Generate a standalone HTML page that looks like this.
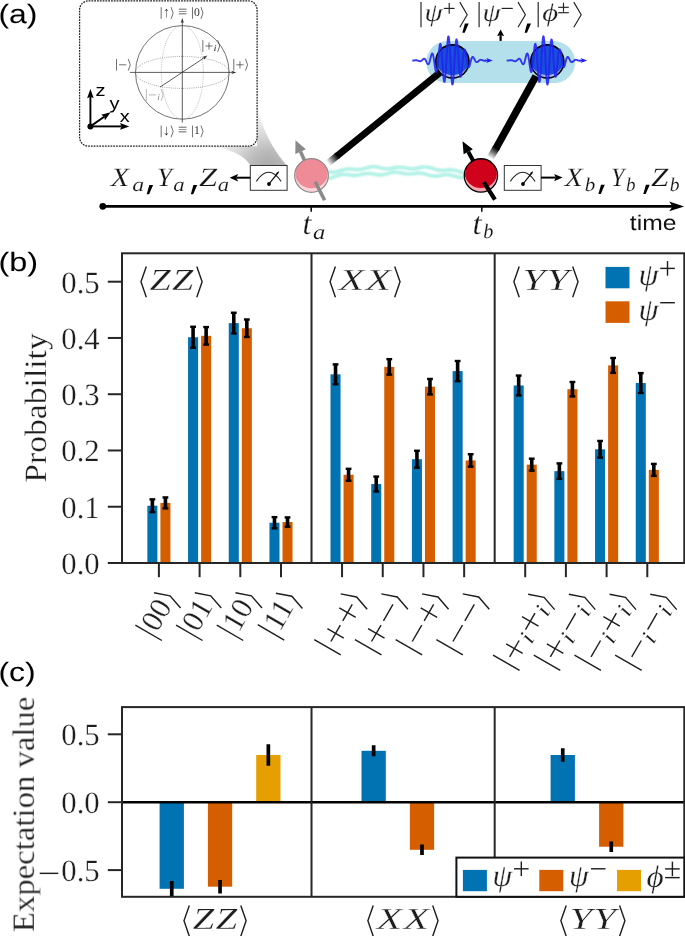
<!DOCTYPE html><html><head><meta charset="utf-8"><title>fig</title><style>html,body{margin:0;padding:0;background:#fff}svg{display:block}</style></head><body><svg width="685" height="936" viewBox="0 0 685 936" text-rendering="geometricPrecision">
<rect width="685" height="936" fill="#fff"/>
<g opacity="0.999">
<rect x="147.35" y="505.73" width="10.05" height="57.27" fill="#0072b2"/>
<rect x="160.40" y="502.91" width="10.05" height="60.09" fill="#d55e00"/>
<line x1="152.38" y1="498.75" x2="152.38" y2="512.70" stroke="#000" stroke-width="3.6"/><line x1="149.47" y1="499.35" x2="155.28" y2="499.35" stroke="#000" stroke-width="2.4"/><line x1="149.47" y1="512.10" x2="155.28" y2="512.10" stroke="#000" stroke-width="2.4"/>
<line x1="165.43" y1="496.84" x2="165.43" y2="508.99" stroke="#000" stroke-width="3.6"/><line x1="162.53" y1="497.44" x2="168.33" y2="497.44" stroke="#000" stroke-width="2.4"/><line x1="162.53" y1="508.39" x2="168.33" y2="508.39" stroke="#000" stroke-width="2.4"/>
<rect x="188.05" y="337.23" width="10.05" height="225.77" fill="#0072b2"/>
<rect x="201.10" y="335.82" width="10.05" height="227.18" fill="#d55e00"/>
<line x1="193.08" y1="326.15" x2="193.08" y2="348.31" stroke="#000" stroke-width="3.6"/><line x1="190.18" y1="326.75" x2="195.98" y2="326.75" stroke="#000" stroke-width="2.4"/><line x1="190.18" y1="347.71" x2="195.98" y2="347.71" stroke="#000" stroke-width="2.4"/>
<line x1="206.13" y1="326.48" x2="206.13" y2="345.16" stroke="#000" stroke-width="3.6"/><line x1="203.23" y1="327.08" x2="209.03" y2="327.08" stroke="#000" stroke-width="2.4"/><line x1="203.23" y1="344.56" x2="209.03" y2="344.56" stroke="#000" stroke-width="2.4"/>
<rect x="228.75" y="323.11" width="10.05" height="239.89" fill="#0072b2"/>
<rect x="241.80" y="328.23" width="10.05" height="234.77" fill="#d55e00"/>
<line x1="233.78" y1="312.14" x2="233.78" y2="334.08" stroke="#000" stroke-width="3.6"/><line x1="230.88" y1="312.74" x2="236.68" y2="312.74" stroke="#000" stroke-width="2.4"/><line x1="230.88" y1="333.48" x2="236.68" y2="333.48" stroke="#000" stroke-width="2.4"/>
<line x1="246.83" y1="318.89" x2="246.83" y2="337.57" stroke="#000" stroke-width="3.6"/><line x1="243.93" y1="319.49" x2="249.73" y2="319.49" stroke="#000" stroke-width="2.4"/><line x1="243.93" y1="336.97" x2="249.73" y2="336.97" stroke="#000" stroke-width="2.4"/>
<rect x="269.45" y="522.72" width="10.05" height="40.28" fill="#0072b2"/>
<rect x="282.50" y="522.04" width="10.05" height="40.96" fill="#d55e00"/>
<line x1="274.48" y1="516.53" x2="274.48" y2="528.91" stroke="#000" stroke-width="3.6"/><line x1="271.58" y1="517.13" x2="277.38" y2="517.13" stroke="#000" stroke-width="2.4"/><line x1="271.58" y1="528.31" x2="277.38" y2="528.31" stroke="#000" stroke-width="2.4"/>
<line x1="287.52" y1="516.81" x2="287.52" y2="527.27" stroke="#000" stroke-width="3.6"/><line x1="284.62" y1="517.41" x2="290.42" y2="517.41" stroke="#000" stroke-width="2.4"/><line x1="284.62" y1="526.67" x2="290.42" y2="526.67" stroke="#000" stroke-width="2.4"/>
<rect x="330.50" y="374.30" width="10.05" height="188.70" fill="#0072b2"/>
<rect x="343.55" y="474.78" width="10.05" height="88.22" fill="#d55e00"/>
<line x1="335.53" y1="363.78" x2="335.53" y2="384.82" stroke="#000" stroke-width="3.6"/><line x1="332.63" y1="364.38" x2="338.43" y2="364.38" stroke="#000" stroke-width="2.4"/><line x1="332.63" y1="384.22" x2="338.43" y2="384.22" stroke="#000" stroke-width="2.4"/>
<line x1="348.57" y1="468.20" x2="348.57" y2="481.37" stroke="#000" stroke-width="3.6"/><line x1="345.68" y1="468.80" x2="351.47" y2="468.80" stroke="#000" stroke-width="2.4"/><line x1="345.68" y1="480.77" x2="351.47" y2="480.77" stroke="#000" stroke-width="2.4"/>
<rect x="371.20" y="484.01" width="10.05" height="78.99" fill="#0072b2"/>
<rect x="384.25" y="366.88" width="10.05" height="196.12" fill="#d55e00"/>
<line x1="376.23" y1="475.97" x2="376.23" y2="492.06" stroke="#000" stroke-width="3.6"/><line x1="373.33" y1="476.57" x2="379.12" y2="476.57" stroke="#000" stroke-width="2.4"/><line x1="373.33" y1="491.46" x2="379.12" y2="491.46" stroke="#000" stroke-width="2.4"/>
<line x1="389.27" y1="358.55" x2="389.27" y2="375.20" stroke="#000" stroke-width="3.6"/><line x1="386.38" y1="359.15" x2="392.17" y2="359.15" stroke="#000" stroke-width="2.4"/><line x1="386.38" y1="374.60" x2="392.17" y2="374.60" stroke="#000" stroke-width="2.4"/>
<rect x="411.90" y="459.20" width="10.05" height="103.80" fill="#0072b2"/>
<rect x="424.95" y="386.68" width="10.05" height="176.32" fill="#d55e00"/>
<line x1="416.93" y1="450.14" x2="416.93" y2="468.26" stroke="#000" stroke-width="3.6"/><line x1="414.03" y1="450.74" x2="419.83" y2="450.74" stroke="#000" stroke-width="2.4"/><line x1="414.03" y1="467.66" x2="419.83" y2="467.66" stroke="#000" stroke-width="2.4"/>
<line x1="429.98" y1="378.35" x2="429.98" y2="395.01" stroke="#000" stroke-width="3.6"/><line x1="427.08" y1="378.95" x2="432.88" y2="378.95" stroke="#000" stroke-width="2.4"/><line x1="427.08" y1="394.41" x2="432.88" y2="394.41" stroke="#000" stroke-width="2.4"/>
<rect x="452.60" y="371.10" width="10.05" height="191.90" fill="#0072b2"/>
<rect x="465.65" y="460.44" width="10.05" height="102.56" fill="#d55e00"/>
<line x1="457.62" y1="360.41" x2="457.62" y2="381.79" stroke="#000" stroke-width="3.6"/><line x1="454.73" y1="361.01" x2="460.52" y2="361.01" stroke="#000" stroke-width="2.4"/><line x1="454.73" y1="381.19" x2="460.52" y2="381.19" stroke="#000" stroke-width="2.4"/>
<line x1="470.67" y1="453.63" x2="470.67" y2="467.25" stroke="#000" stroke-width="3.6"/><line x1="467.77" y1="454.23" x2="473.57" y2="454.23" stroke="#000" stroke-width="2.4"/><line x1="467.77" y1="466.65" x2="473.57" y2="466.65" stroke="#000" stroke-width="2.4"/>
<rect x="513.65" y="385.50" width="10.05" height="177.50" fill="#0072b2"/>
<rect x="526.70" y="464.66" width="10.05" height="98.34" fill="#d55e00"/>
<line x1="518.68" y1="374.98" x2="518.68" y2="396.02" stroke="#000" stroke-width="3.6"/><line x1="515.78" y1="375.58" x2="521.58" y2="375.58" stroke="#000" stroke-width="2.4"/><line x1="515.78" y1="395.42" x2="521.58" y2="395.42" stroke="#000" stroke-width="2.4"/>
<line x1="531.73" y1="458.08" x2="531.73" y2="471.24" stroke="#000" stroke-width="3.6"/><line x1="528.83" y1="458.68" x2="534.62" y2="458.68" stroke="#000" stroke-width="2.4"/><line x1="528.83" y1="470.64" x2="534.62" y2="470.64" stroke="#000" stroke-width="2.4"/>
<rect x="554.35" y="471.13" width="10.05" height="91.87" fill="#0072b2"/>
<rect x="567.40" y="389.21" width="10.05" height="173.79" fill="#d55e00"/>
<line x1="559.38" y1="462.80" x2="559.38" y2="479.45" stroke="#000" stroke-width="3.6"/><line x1="556.48" y1="463.40" x2="562.27" y2="463.40" stroke="#000" stroke-width="2.4"/><line x1="556.48" y1="478.85" x2="562.27" y2="478.85" stroke="#000" stroke-width="2.4"/>
<line x1="572.42" y1="381.39" x2="572.42" y2="397.03" stroke="#000" stroke-width="3.6"/><line x1="569.52" y1="381.99" x2="575.32" y2="381.99" stroke="#000" stroke-width="2.4"/><line x1="569.52" y1="396.43" x2="575.32" y2="396.43" stroke="#000" stroke-width="2.4"/>
<rect x="595.05" y="449.30" width="10.05" height="113.70" fill="#0072b2"/>
<rect x="608.10" y="365.41" width="10.05" height="197.59" fill="#d55e00"/>
<line x1="600.08" y1="440.35" x2="600.08" y2="458.24" stroke="#000" stroke-width="3.6"/><line x1="597.18" y1="440.95" x2="602.98" y2="440.95" stroke="#000" stroke-width="2.4"/><line x1="597.18" y1="457.64" x2="602.98" y2="457.64" stroke="#000" stroke-width="2.4"/>
<line x1="613.12" y1="357.37" x2="613.12" y2="373.46" stroke="#000" stroke-width="3.6"/><line x1="610.23" y1="357.97" x2="616.02" y2="357.97" stroke="#000" stroke-width="2.4"/><line x1="610.23" y1="372.86" x2="616.02" y2="372.86" stroke="#000" stroke-width="2.4"/>
<rect x="635.75" y="383.02" width="10.05" height="179.98" fill="#0072b2"/>
<rect x="648.80" y="469.89" width="10.05" height="93.11" fill="#d55e00"/>
<line x1="640.78" y1="372.50" x2="640.78" y2="393.54" stroke="#000" stroke-width="3.6"/><line x1="637.88" y1="373.10" x2="643.68" y2="373.10" stroke="#000" stroke-width="2.4"/><line x1="637.88" y1="392.94" x2="643.68" y2="392.94" stroke="#000" stroke-width="2.4"/>
<line x1="653.83" y1="463.31" x2="653.83" y2="476.47" stroke="#000" stroke-width="3.6"/><line x1="650.93" y1="463.91" x2="656.73" y2="463.91" stroke="#000" stroke-width="2.4"/><line x1="650.93" y1="475.87" x2="656.73" y2="475.87" stroke="#000" stroke-width="2.4"/>
<rect x="122.0" y="253.3" width="562.30" height="309.70" fill="none" stroke="#262626" stroke-width="2"/>
<line x1="311.52" y1="253.3" x2="311.52" y2="563.0" stroke="#262626" stroke-width="2"/>
<line x1="494.68" y1="253.3" x2="494.68" y2="563.0" stroke="#262626" stroke-width="2"/>
<line x1="107.80" y1="563.00" x2="122.0" y2="563.00" stroke="#262626" stroke-width="2"/>
<g transform="translate(99.70,574.00) translate(-38.36,0.00)"><text transform="translate(0.00,0.00) scale(0.990,1)" font-family="'Liberation Serif', serif" font-style="normal" font-size="31.00" text-anchor="start" fill="#1e1e1e"  stroke="#fff" stroke-width="0.24">0.0</text></g>
<line x1="107.80" y1="506.74" x2="122.0" y2="506.74" stroke="#262626" stroke-width="2"/>
<g transform="translate(99.70,517.74) translate(-38.36,0.00)"><text transform="translate(0.00,0.00) scale(0.990,1)" font-family="'Liberation Serif', serif" font-style="normal" font-size="31.00" text-anchor="start" fill="#1e1e1e"  stroke="#fff" stroke-width="0.24">0.1</text></g>
<line x1="107.80" y1="450.48" x2="122.0" y2="450.48" stroke="#262626" stroke-width="2"/>
<g transform="translate(99.70,461.48) translate(-38.36,0.00)"><text transform="translate(0.00,0.00) scale(0.990,1)" font-family="'Liberation Serif', serif" font-style="normal" font-size="31.00" text-anchor="start" fill="#1e1e1e"  stroke="#fff" stroke-width="0.24">0.2</text></g>
<line x1="107.80" y1="394.22" x2="122.0" y2="394.22" stroke="#262626" stroke-width="2"/>
<g transform="translate(99.70,405.22) translate(-38.36,0.00)"><text transform="translate(0.00,0.00) scale(0.990,1)" font-family="'Liberation Serif', serif" font-style="normal" font-size="31.00" text-anchor="start" fill="#1e1e1e"  stroke="#fff" stroke-width="0.24">0.3</text></g>
<line x1="107.80" y1="337.96" x2="122.0" y2="337.96" stroke="#262626" stroke-width="2"/>
<g transform="translate(99.70,348.96) translate(-38.36,0.00)"><text transform="translate(0.00,0.00) scale(0.990,1)" font-family="'Liberation Serif', serif" font-style="normal" font-size="31.00" text-anchor="start" fill="#1e1e1e"  stroke="#fff" stroke-width="0.24">0.4</text></g>
<line x1="107.80" y1="281.70" x2="122.0" y2="281.70" stroke="#262626" stroke-width="2"/>
<g transform="translate(99.70,292.70) translate(-38.36,0.00)"><text transform="translate(0.00,0.00) scale(0.990,1)" font-family="'Liberation Serif', serif" font-style="normal" font-size="31.00" text-anchor="start" fill="#1e1e1e"  stroke="#fff" stroke-width="0.24">0.5</text></g>
<line x1="158.90" y1="563.0" x2="158.90" y2="577.20" stroke="#262626" stroke-width="2"/>
<line x1="199.60" y1="563.0" x2="199.60" y2="577.20" stroke="#262626" stroke-width="2"/>
<line x1="240.30" y1="563.0" x2="240.30" y2="577.20" stroke="#262626" stroke-width="2"/>
<line x1="281.00" y1="563.0" x2="281.00" y2="577.20" stroke="#262626" stroke-width="2"/>
<line x1="342.05" y1="563.0" x2="342.05" y2="577.20" stroke="#262626" stroke-width="2"/>
<line x1="382.75" y1="563.0" x2="382.75" y2="577.20" stroke="#262626" stroke-width="2"/>
<line x1="423.45" y1="563.0" x2="423.45" y2="577.20" stroke="#262626" stroke-width="2"/>
<line x1="464.15" y1="563.0" x2="464.15" y2="577.20" stroke="#262626" stroke-width="2"/>
<line x1="525.20" y1="563.0" x2="525.20" y2="577.20" stroke="#262626" stroke-width="2"/>
<line x1="565.90" y1="563.0" x2="565.90" y2="577.20" stroke="#262626" stroke-width="2"/>
<line x1="606.60" y1="563.0" x2="606.60" y2="577.20" stroke="#262626" stroke-width="2"/>
<line x1="647.30" y1="563.0" x2="647.30" y2="577.20" stroke="#262626" stroke-width="2"/>
<g transform="translate(159.20,614.50) rotate(-60) translate(-25.44,7.65)"><line x1="4.25" y1="-22.95" x2="4.25" y2="7.65" stroke="#1e1e1e" stroke-width="1.41"/><text x="8.51" y="0.00" font-family="'Liberation Serif', serif" font-style="normal" font-size="30.60" text-anchor="start" fill="#1e1e1e"  stroke="#fff" stroke-width="0.23">00</text><polyline points="41.71,-22.95 47.06,-7.65 41.71,7.65" fill="none" stroke="#1e1e1e" stroke-width="1.41" stroke-linejoin="miter"/></g>
<g transform="translate(199.90,614.50) rotate(-60) translate(-25.44,7.65)"><line x1="4.25" y1="-22.95" x2="4.25" y2="7.65" stroke="#1e1e1e" stroke-width="1.41"/><text x="8.51" y="0.00" font-family="'Liberation Serif', serif" font-style="normal" font-size="30.60" text-anchor="start" fill="#1e1e1e"  stroke="#fff" stroke-width="0.23">01</text><polyline points="41.71,-22.95 47.06,-7.65 41.71,7.65" fill="none" stroke="#1e1e1e" stroke-width="1.41" stroke-linejoin="miter"/></g>
<g transform="translate(240.60,614.50) rotate(-60) translate(-25.44,7.65)"><line x1="4.25" y1="-22.95" x2="4.25" y2="7.65" stroke="#1e1e1e" stroke-width="1.41"/><text x="8.51" y="0.00" font-family="'Liberation Serif', serif" font-style="normal" font-size="30.60" text-anchor="start" fill="#1e1e1e"  stroke="#fff" stroke-width="0.23">10</text><polyline points="41.71,-22.95 47.06,-7.65 41.71,7.65" fill="none" stroke="#1e1e1e" stroke-width="1.41" stroke-linejoin="miter"/></g>
<g transform="translate(281.30,614.50) rotate(-60) translate(-24.88,7.65)"><line x1="4.25" y1="-22.95" x2="4.25" y2="7.65" stroke="#1e1e1e" stroke-width="1.41"/><text x="8.51" y="0.00" font-family="'Liberation Serif', serif" font-style="normal" font-size="30.60" text-anchor="start" fill="#1e1e1e"  stroke="#fff" stroke-width="0.23">11</text><polyline points="40.57,-22.95 45.93,-7.65 40.57,7.65" fill="none" stroke="#1e1e1e" stroke-width="1.41" stroke-linejoin="miter"/></g>
<g transform="translate(341.95,622.30) rotate(-60) translate(-33.11,7.65)"><line x1="4.25" y1="-22.95" x2="4.25" y2="7.65" stroke="#1e1e1e" stroke-width="1.41"/><line x1="10.92" y1="-7.65" x2="29.90" y2="-7.65" stroke="#1e1e1e" stroke-width="1.41"/><line x1="20.41" y1="-17.14" x2="20.41" y2="1.84" stroke="#1e1e1e" stroke-width="1.41"/><line x1="34.73" y1="-7.65" x2="53.70" y2="-7.65" stroke="#1e1e1e" stroke-width="1.41"/><line x1="44.22" y1="-17.14" x2="44.22" y2="1.84" stroke="#1e1e1e" stroke-width="1.41"/><polyline points="57.04,-22.95 62.39,-7.65 57.04,7.65" fill="none" stroke="#1e1e1e" stroke-width="1.41" stroke-linejoin="miter"/></g>
<g transform="translate(382.65,622.30) rotate(-60) translate(-33.11,7.65)"><line x1="4.25" y1="-22.95" x2="4.25" y2="7.65" stroke="#1e1e1e" stroke-width="1.41"/><line x1="10.92" y1="-7.65" x2="29.90" y2="-7.65" stroke="#1e1e1e" stroke-width="1.41"/><line x1="20.41" y1="-17.14" x2="20.41" y2="1.84" stroke="#1e1e1e" stroke-width="1.41"/><line x1="34.73" y1="-7.65" x2="53.70" y2="-7.65" stroke="#1e1e1e" stroke-width="1.41"/><polyline points="57.04,-22.95 62.39,-7.65 57.04,7.65" fill="none" stroke="#1e1e1e" stroke-width="1.41" stroke-linejoin="miter"/></g>
<g transform="translate(423.35,622.30) rotate(-60) translate(-33.11,7.65)"><line x1="4.25" y1="-22.95" x2="4.25" y2="7.65" stroke="#1e1e1e" stroke-width="1.41"/><line x1="10.92" y1="-7.65" x2="29.90" y2="-7.65" stroke="#1e1e1e" stroke-width="1.41"/><line x1="34.73" y1="-7.65" x2="53.70" y2="-7.65" stroke="#1e1e1e" stroke-width="1.41"/><line x1="44.22" y1="-17.14" x2="44.22" y2="1.84" stroke="#1e1e1e" stroke-width="1.41"/><polyline points="57.04,-22.95 62.39,-7.65 57.04,7.65" fill="none" stroke="#1e1e1e" stroke-width="1.41" stroke-linejoin="miter"/></g>
<g transform="translate(464.05,622.30) rotate(-60) translate(-33.11,7.65)"><line x1="4.25" y1="-22.95" x2="4.25" y2="7.65" stroke="#1e1e1e" stroke-width="1.41"/><line x1="10.92" y1="-7.65" x2="29.90" y2="-7.65" stroke="#1e1e1e" stroke-width="1.41"/><line x1="34.73" y1="-7.65" x2="53.70" y2="-7.65" stroke="#1e1e1e" stroke-width="1.41"/><polyline points="57.04,-22.95 62.39,-7.65 57.04,7.65" fill="none" stroke="#1e1e1e" stroke-width="1.41" stroke-linejoin="miter"/></g>
<g transform="translate(525.10,630.20) rotate(-60) translate(-41.80,7.65)"><line x1="4.25" y1="-22.95" x2="4.25" y2="7.65" stroke="#1e1e1e" stroke-width="1.41"/><line x1="10.92" y1="-7.65" x2="29.90" y2="-7.65" stroke="#1e1e1e" stroke-width="1.41"/><line x1="20.41" y1="-17.14" x2="20.41" y2="1.84" stroke="#1e1e1e" stroke-width="1.41"/><text transform="translate(32.31,5.20) scale(1.150,1)" font-family="'Liberation Serif', serif" font-style="italic" font-size="22.64" text-anchor="start" fill="#1e1e1e"  stroke="#fff" stroke-width="0.15">i</text><line x1="42.58" y1="-7.65" x2="61.55" y2="-7.65" stroke="#1e1e1e" stroke-width="1.41"/><line x1="52.06" y1="-17.14" x2="52.06" y2="1.84" stroke="#1e1e1e" stroke-width="1.41"/><text transform="translate(63.97,5.20) scale(1.150,1)" font-family="'Liberation Serif', serif" font-style="italic" font-size="22.64" text-anchor="start" fill="#1e1e1e"  stroke="#fff" stroke-width="0.15">i</text><polyline points="74.41,-22.95 79.77,-7.65 74.41,7.65" fill="none" stroke="#1e1e1e" stroke-width="1.41" stroke-linejoin="miter"/></g>
<g transform="translate(565.80,630.20) rotate(-60) translate(-41.80,7.65)"><line x1="4.25" y1="-22.95" x2="4.25" y2="7.65" stroke="#1e1e1e" stroke-width="1.41"/><line x1="10.92" y1="-7.65" x2="29.90" y2="-7.65" stroke="#1e1e1e" stroke-width="1.41"/><line x1="20.41" y1="-17.14" x2="20.41" y2="1.84" stroke="#1e1e1e" stroke-width="1.41"/><text transform="translate(32.31,5.20) scale(1.150,1)" font-family="'Liberation Serif', serif" font-style="italic" font-size="22.64" text-anchor="start" fill="#1e1e1e"  stroke="#fff" stroke-width="0.15">i</text><line x1="42.58" y1="-7.65" x2="61.55" y2="-7.65" stroke="#1e1e1e" stroke-width="1.41"/><text transform="translate(63.97,5.20) scale(1.150,1)" font-family="'Liberation Serif', serif" font-style="italic" font-size="22.64" text-anchor="start" fill="#1e1e1e"  stroke="#fff" stroke-width="0.15">i</text><polyline points="74.41,-22.95 79.77,-7.65 74.41,7.65" fill="none" stroke="#1e1e1e" stroke-width="1.41" stroke-linejoin="miter"/></g>
<g transform="translate(606.50,630.20) rotate(-60) translate(-41.80,7.65)"><line x1="4.25" y1="-22.95" x2="4.25" y2="7.65" stroke="#1e1e1e" stroke-width="1.41"/><line x1="10.92" y1="-7.65" x2="29.90" y2="-7.65" stroke="#1e1e1e" stroke-width="1.41"/><text transform="translate(32.31,5.20) scale(1.150,1)" font-family="'Liberation Serif', serif" font-style="italic" font-size="22.64" text-anchor="start" fill="#1e1e1e"  stroke="#fff" stroke-width="0.15">i</text><line x1="42.58" y1="-7.65" x2="61.55" y2="-7.65" stroke="#1e1e1e" stroke-width="1.41"/><line x1="52.06" y1="-17.14" x2="52.06" y2="1.84" stroke="#1e1e1e" stroke-width="1.41"/><text transform="translate(63.97,5.20) scale(1.150,1)" font-family="'Liberation Serif', serif" font-style="italic" font-size="22.64" text-anchor="start" fill="#1e1e1e"  stroke="#fff" stroke-width="0.15">i</text><polyline points="74.41,-22.95 79.77,-7.65 74.41,7.65" fill="none" stroke="#1e1e1e" stroke-width="1.41" stroke-linejoin="miter"/></g>
<g transform="translate(647.20,630.20) rotate(-60) translate(-41.80,7.65)"><line x1="4.25" y1="-22.95" x2="4.25" y2="7.65" stroke="#1e1e1e" stroke-width="1.41"/><line x1="10.92" y1="-7.65" x2="29.90" y2="-7.65" stroke="#1e1e1e" stroke-width="1.41"/><text transform="translate(32.31,5.20) scale(1.150,1)" font-family="'Liberation Serif', serif" font-style="italic" font-size="22.64" text-anchor="start" fill="#1e1e1e"  stroke="#fff" stroke-width="0.15">i</text><line x1="42.58" y1="-7.65" x2="61.55" y2="-7.65" stroke="#1e1e1e" stroke-width="1.41"/><text transform="translate(63.97,5.20) scale(1.150,1)" font-family="'Liberation Serif', serif" font-style="italic" font-size="22.64" text-anchor="start" fill="#1e1e1e"  stroke="#fff" stroke-width="0.15">i</text><polyline points="74.41,-22.95 79.77,-7.65 74.41,7.65" fill="none" stroke="#1e1e1e" stroke-width="1.41" stroke-linejoin="miter"/></g>
<g transform="translate(45.5,408) rotate(-90)"><text transform="translate(0.00,0.00) scale(1.085,1)" font-family="'Liberation Serif', serif" font-style="normal" font-size="31.00" text-anchor="middle" fill="#1e1e1e"  stroke="#fff" stroke-width="0.26">Probability</text></g>
<g transform="translate(137.15,289.50) translate(0.00,0.00)"><polyline points="9.18,-22.95 3.83,-7.65 9.18,7.65" fill="none" stroke="#1e1e1e" stroke-width="1.41" stroke-linejoin="miter"/><text transform="translate(12.39,0.00) scale(1.249,1)" font-family="'Liberation Serif', serif" font-style="italic" font-size="30.60" text-anchor="start" fill="#1e1e1e"  stroke="#fff" stroke-width="0.29">Z</text><text transform="translate(34.86,0.00) scale(1.249,1)" font-family="'Liberation Serif', serif" font-style="italic" font-size="30.60" text-anchor="start" fill="#1e1e1e"  stroke="#fff" stroke-width="0.29">Z</text><polyline points="59.63,-22.95 64.98,-7.65 59.63,7.65" fill="none" stroke="#1e1e1e" stroke-width="1.41" stroke-linejoin="miter"/></g>
<g transform="translate(326.25,289.50) translate(0.00,0.00)"><polyline points="9.18,-22.95 3.83,-7.65 9.18,7.65" fill="none" stroke="#1e1e1e" stroke-width="1.41" stroke-linejoin="miter"/><text transform="translate(12.39,0.00) scale(1.372,1)" font-family="'Liberation Serif', serif" font-style="italic" font-size="30.60" text-anchor="start" fill="#1e1e1e"  stroke="#fff" stroke-width="0.32">X</text><text transform="translate(39.26,0.00) scale(1.372,1)" font-family="'Liberation Serif', serif" font-style="italic" font-size="30.60" text-anchor="start" fill="#1e1e1e"  stroke="#fff" stroke-width="0.32">X</text><polyline points="68.43,-22.95 73.78,-7.65 68.43,7.65" fill="none" stroke="#1e1e1e" stroke-width="1.41" stroke-linejoin="miter"/></g>
<g transform="translate(510.05,289.50) translate(0.00,0.00)"><polyline points="9.18,-22.95 3.83,-7.65 9.18,7.65" fill="none" stroke="#1e1e1e" stroke-width="1.41" stroke-linejoin="miter"/><text transform="translate(12.39,0.00) scale(1.337,1)" font-family="'Liberation Serif', serif" font-style="italic" font-size="30.60" text-anchor="start" fill="#1e1e1e"  stroke="#fff" stroke-width="0.31">Y</text><text transform="translate(36.36,0.00) scale(1.337,1)" font-family="'Liberation Serif', serif" font-style="italic" font-size="30.60" text-anchor="start" fill="#1e1e1e"  stroke="#fff" stroke-width="0.31">Y</text><polyline points="62.63,-22.95 67.98,-7.65 62.63,7.65" fill="none" stroke="#1e1e1e" stroke-width="1.41" stroke-linejoin="miter"/></g>
<rect x="605.5" y="266.9" width="24.0" height="21.4" fill="#0072b2"/>
<rect x="605.5" y="301.3" width="24.0" height="21.6" fill="#d55e00"/>
<g transform="translate(638.60,285.20) translate(0.00,0.00)"><text transform="translate(0.00,0.00) scale(1.039,1)" font-family="'Liberation Serif', serif" font-style="italic" font-size="31.00" text-anchor="start" fill="#1e1e1e"  stroke="#fff" stroke-width="0.25">ψ</text></g>
<g transform="translate(658.35,276.15) translate(0.00,0.00)"><line x1="1.86" y1="-7.75" x2="16.47" y2="-7.75" stroke="#1e1e1e" stroke-width="1.43"/><line x1="9.16" y1="-15.05" x2="9.16" y2="-0.45" stroke="#1e1e1e" stroke-width="1.43"/></g>
<g transform="translate(638.60,319.50) translate(0.00,0.00)"><text transform="translate(0.00,0.00) scale(1.039,1)" font-family="'Liberation Serif', serif" font-style="italic" font-size="31.00" text-anchor="start" fill="#1e1e1e"  stroke="#fff" stroke-width="0.25">ψ</text></g>
<g transform="translate(658.35,310.45) translate(0.00,0.00)"><line x1="1.86" y1="-7.75" x2="16.47" y2="-7.75" stroke="#1e1e1e" stroke-width="1.43"/></g>
<text x="-1.60" y="270.80" font-family="'Liberation Sans', sans-serif" font-style="normal" font-size="26.50" text-anchor="start" fill="#000" textLength="39.6" lengthAdjust="spacingAndGlyphs" stroke="#000" stroke-width="0.05">(b)</text>
<clipPath id="cc"><rect x="122.0" y="707.1" width="562.30" height="189.70"/></clipPath><g clip-path="url(#cc)">
<rect x="159.60" y="802.20" width="24.3" height="86.60" fill="#0072b2"/>
<line x1="171.75" y1="880.92" x2="171.75" y2="896.68" stroke="#000" stroke-width="3.7"/>
<rect x="207.90" y="802.20" width="24.3" height="84.47" fill="#d55e00"/>
<line x1="220.05" y1="879.92" x2="220.05" y2="893.42" stroke="#000" stroke-width="3.7"/>
<rect x="256.20" y="755.00" width="24.3" height="47.20" fill="#e69f00"/>
<line x1="268.35" y1="744.20" x2="268.35" y2="765.79" stroke="#000" stroke-width="3.7"/>
<rect x="361.50" y="750.80" width="24.3" height="51.40" fill="#0072b2"/>
<line x1="373.65" y1="745.30" x2="373.65" y2="756.30" stroke="#000" stroke-width="3.7"/>
<rect x="409.85" y="802.20" width="24.3" height="47.60" fill="#d55e00"/>
<line x1="422.00" y1="844.50" x2="422.00" y2="855.09" stroke="#000" stroke-width="3.7"/>
<rect x="550.60" y="755.00" width="24.3" height="47.20" fill="#0072b2"/>
<line x1="562.75" y1="748.27" x2="562.75" y2="761.72" stroke="#000" stroke-width="3.7"/>
<rect x="599.10" y="802.20" width="24.3" height="44.53" fill="#d55e00"/>
<line x1="611.25" y1="841.43" x2="611.25" y2="852.03" stroke="#000" stroke-width="3.7"/>
</g>
<line x1="122.0" y1="802.2" x2="684.3" y2="802.2" stroke="#000" stroke-width="2.4"/>
<rect x="122.0" y="707.1" width="562.30" height="189.70" fill="none" stroke="#262626" stroke-width="2"/>
<line x1="311.52" y1="707.1" x2="311.52" y2="896.8" stroke="#262626" stroke-width="2"/>
<line x1="494.68" y1="707.1" x2="494.68" y2="896.8" stroke="#262626" stroke-width="2"/>
<line x1="107.80" y1="734.30" x2="122.0" y2="734.30" stroke="#262626" stroke-width="2"/>
<g transform="translate(99.70,745.30) translate(-38.36,0.00)"><text transform="translate(0.00,0.00) scale(0.990,1)" font-family="'Liberation Serif', serif" font-style="normal" font-size="31.00" text-anchor="start" fill="#1e1e1e"  stroke="#fff" stroke-width="0.24">0.5</text></g>
<line x1="107.80" y1="802.20" x2="122.0" y2="802.20" stroke="#262626" stroke-width="2"/>
<g transform="translate(99.70,813.20) translate(-38.36,0.00)"><text transform="translate(0.00,0.00) scale(0.990,1)" font-family="'Liberation Serif', serif" font-style="normal" font-size="31.00" text-anchor="start" fill="#1e1e1e"  stroke="#fff" stroke-width="0.24">0.0</text></g>
<line x1="107.80" y1="870.10" x2="122.0" y2="870.10" stroke="#262626" stroke-width="2"/>
<g transform="translate(99.70,881.10) translate(-62.38,0.00)"><line x1="2.38" y1="-7.75" x2="21.02" y2="-7.75" stroke="#1e1e1e" stroke-width="1.43"/><text transform="translate(24.01,0.00) scale(0.990,1)" font-family="'Liberation Serif', serif" font-style="normal" font-size="31.00" text-anchor="start" fill="#1e1e1e"  stroke="#fff" stroke-width="0.24">0.5</text></g>
<g transform="translate(33.8,814.4) rotate(-90)"><text x="0.00" y="0.00" font-family="'Liberation Serif', serif" font-style="normal" font-size="31.00" text-anchor="middle" fill="#1e1e1e" textLength="235.5" lengthAdjust="spacingAndGlyphs" stroke="#fff" stroke-width="0.24">Expectation value</text></g>
<g transform="translate(180.15,928.50) translate(0.00,0.00)"><polyline points="9.18,-22.95 3.83,-7.65 9.18,7.65" fill="none" stroke="#1e1e1e" stroke-width="1.41" stroke-linejoin="miter"/><text transform="translate(12.39,0.00) scale(1.278,1)" font-family="'Liberation Serif', serif" font-style="italic" font-size="30.60" text-anchor="start" fill="#1e1e1e"  stroke="#fff" stroke-width="0.30">Z</text><text transform="translate(35.36,0.00) scale(1.278,1)" font-family="'Liberation Serif', serif" font-style="italic" font-size="30.60" text-anchor="start" fill="#1e1e1e"  stroke="#fff" stroke-width="0.30">Z</text><polyline points="60.63,-22.95 65.98,-7.65 60.63,7.65" fill="none" stroke="#1e1e1e" stroke-width="1.41" stroke-linejoin="miter"/></g>
<g transform="translate(364.05,928.50) translate(0.00,0.00)"><polyline points="9.18,-22.95 3.83,-7.65 9.18,7.65" fill="none" stroke="#1e1e1e" stroke-width="1.41" stroke-linejoin="miter"/><text transform="translate(12.39,0.00) scale(1.378,1)" font-family="'Liberation Serif', serif" font-style="italic" font-size="30.60" text-anchor="start" fill="#1e1e1e"  stroke="#fff" stroke-width="0.32">X</text><text transform="translate(39.36,0.00) scale(1.378,1)" font-family="'Liberation Serif', serif" font-style="italic" font-size="30.60" text-anchor="start" fill="#1e1e1e"  stroke="#fff" stroke-width="0.32">X</text><polyline points="68.63,-22.95 73.98,-7.65 68.63,7.65" fill="none" stroke="#1e1e1e" stroke-width="1.41" stroke-linejoin="miter"/></g>
<g transform="translate(557.05,928.50) translate(0.00,0.00)"><polyline points="9.18,-22.95 3.83,-7.65 9.18,7.65" fill="none" stroke="#1e1e1e" stroke-width="1.41" stroke-linejoin="miter"/><text transform="translate(12.39,0.00) scale(1.334,1)" font-family="'Liberation Serif', serif" font-style="italic" font-size="30.60" text-anchor="start" fill="#1e1e1e"  stroke="#fff" stroke-width="0.31">Y</text><text transform="translate(36.31,0.00) scale(1.334,1)" font-family="'Liberation Serif', serif" font-style="italic" font-size="30.60" text-anchor="start" fill="#1e1e1e"  stroke="#fff" stroke-width="0.31">Y</text><polyline points="62.53,-22.95 67.88,-7.65 62.53,7.65" fill="none" stroke="#1e1e1e" stroke-width="1.41" stroke-linejoin="miter"/></g>
<rect x="456.4" y="857.6" width="227.90" height="39.20" fill="#fff" stroke="#111" stroke-width="2"/>
<rect x="462.9" y="869.9" width="24.0" height="21.3" fill="#0072b2"/>
<g transform="translate(492.50,885.60) translate(0.00,0.00)"><text transform="translate(0.00,0.00) scale(1.018,1)" font-family="'Liberation Serif', serif" font-style="italic" font-size="31.00" text-anchor="start" fill="#1e1e1e"  stroke="#fff" stroke-width="0.24">ψ</text></g>
<g transform="translate(512.15,876.55) translate(0.00,0.00)"><line x1="1.86" y1="-7.75" x2="16.47" y2="-7.75" stroke="#1e1e1e" stroke-width="1.43"/><line x1="9.16" y1="-15.05" x2="9.16" y2="-0.45" stroke="#1e1e1e" stroke-width="1.43"/></g>
<rect x="539.3" y="869.9" width="24.0" height="21.3" fill="#d55e00"/>
<g transform="translate(569.10,885.60) translate(0.00,0.00)"><text transform="translate(0.00,0.00) scale(1.018,1)" font-family="'Liberation Serif', serif" font-style="italic" font-size="31.00" text-anchor="start" fill="#1e1e1e"  stroke="#fff" stroke-width="0.24">ψ</text></g>
<g transform="translate(589.05,876.55) translate(0.00,0.00)"><line x1="1.86" y1="-7.75" x2="16.47" y2="-7.75" stroke="#1e1e1e" stroke-width="1.43"/></g>
<rect x="617.0" y="869.9" width="24.0" height="21.3" fill="#e69f00"/>
<g transform="translate(646.50,886.60) translate(0.00,0.00)"><text transform="translate(0.00,0.00) scale(1.072,1)" font-family="'Liberation Serif', serif" font-style="italic" font-size="31.00" text-anchor="start" fill="#1e1e1e"  stroke="#fff" stroke-width="0.26">ϕ</text></g>
<g transform="translate(663.25,876.65) translate(0.00,0.00)"><line x1="1.86" y1="-7.75" x2="16.47" y2="-7.75" stroke="#1e1e1e" stroke-width="1.43"/><line x1="9.16" y1="-15.05" x2="9.16" y2="-0.45" stroke="#1e1e1e" stroke-width="1.43"/><line x1="1.86" y1="0.98" x2="16.47" y2="0.98" stroke="#1e1e1e" stroke-width="1.43"/></g>
<text x="-1.60" y="680.60" font-family="'Liberation Sans', sans-serif" font-style="normal" font-size="26.50" text-anchor="start" fill="#000" textLength="37.2" lengthAdjust="spacingAndGlyphs" stroke="#000" stroke-width="0.05">(c)</text>
<defs>
<radialGradient id="gcall" cx="268.5" cy="170" r="66" gradientUnits="userSpaceOnUse"><stop offset="0" stop-color="#a4a4a4"/><stop offset="0.28" stop-color="#bababa"/><stop offset="0.55" stop-color="#dadada"/><stop offset="0.8" stop-color="#f2f2f2"/><stop offset="1" stop-color="#ffffff"/></radialGradient>
<linearGradient id="gla" x1="325.5" y1="165.2" x2="337.5" y2="155.5" gradientUnits="userSpaceOnUse"><stop offset="0" stop-color="#fff"/><stop offset="0.2" stop-color="#fff"/><stop offset="1" stop-color="#000"/></linearGradient>
<linearGradient id="glb" x1="488.6" y1="160.6" x2="496.2" y2="148" gradientUnits="userSpaceOnUse"><stop offset="0" stop-color="#fff"/><stop offset="0.2" stop-color="#fff"/><stop offset="1" stop-color="#000"/></linearGradient>
<filter id="blur1" x="-5%" y="-50%" width="110%" height="200%"><feGaussianBlur stdDeviation="1.1"/></filter>
<clipPath id="ca"><circle cx="311.5" cy="175.5" r="16.2"/></clipPath>
<clipPath id="cb"><circle cx="480.9" cy="175.4" r="16.0"/></clipPath>
<clipPath id="cp1"><circle cx="452.4" cy="61.5" r="16.2"/></clipPath>
<clipPath id="cp2"><circle cx="547.3" cy="61.5" r="16.2"/></clipPath>
</defs>
<path d="M250.2,165.6 C247,160 240,153 222,148.6 C214,147 206,146.4 196,146.2 L257.1,146.2 L257.1,100 C258,110 262,125 266.3,133.4 C271,145 280,158 287.2,165.6 Z" fill="url(#gcall)"/>
<rect x="79.6" y="0.8" width="177.5" height="145.4" rx="9" ry="9" fill="#fff" stroke="#222" stroke-width="1.25" stroke-dasharray="1.8,1.0"/>
<circle cx="182.3" cy="72.4" r="46.8" fill="none" stroke="#444" stroke-width="0.75"/>
<ellipse cx="182.3" cy="72.4" rx="46.8" ry="16" fill="none" stroke="#808080" stroke-width="0.8" stroke-dasharray="0.9,1.2"/>
<ellipse cx="182.3" cy="72.4" rx="21" ry="46.8" fill="none" stroke="#a0a0a0" stroke-width="0.8" stroke-dasharray="0.9,1.2"/>
<line x1="182.30" y1="122.60" x2="182.30" y2="22.00" stroke="#333" stroke-width="0.8"/><polygon points="182.30,18.00 183.90,23.00 182.30,22.00 180.70,23.00" fill="#333"/>
<line x1="129.90" y1="72.40" x2="232.40" y2="72.40" stroke="#333" stroke-width="0.8"/><polygon points="236.40,72.40 231.40,74.00 232.40,72.40 231.40,70.80" fill="#333"/>
<line x1="159.90" y1="87.20" x2="204.07" y2="57.82" stroke="#333" stroke-width="0.8"/><polygon points="207.40,55.60 204.12,59.70 204.07,57.82 202.35,57.04" fill="#333"/>
<g transform="translate(182.00,15.93) translate(-22.47,0.00)"><line x1="1.63" y1="-8.77" x2="1.63" y2="2.92" stroke="#333" stroke-width="0.70"/><text x="3.25" y="0.58" font-family="'Liberation Serif', serif" font-style="normal" font-size="14.62" text-anchor="start" fill="#333"  stroke="#fff" stroke-width="0.05">↑</text><polyline points="11.56,-8.77 13.61,-2.92 11.56,2.92" fill="none" stroke="#333" stroke-width="0.70" stroke-linejoin="miter"/><text x="18.58" y="0.70" font-family="'Liberation Serif', serif" font-style="normal" font-size="16.38" text-anchor="start" fill="#333"  stroke="#fff" stroke-width="0.07">≡</text><line x1="32.95" y1="-8.77" x2="32.95" y2="2.92" stroke="#333" stroke-width="0.70"/><text x="34.58" y="0.00" font-family="'Liberation Serif', serif" font-style="normal" font-size="11.70" text-anchor="start" fill="#333" >0</text><polyline points="41.42,-8.77 43.47,-2.92 41.42,2.92" fill="none" stroke="#333" stroke-width="0.70" stroke-linejoin="miter"/></g>
<g transform="translate(182.00,134.33) translate(-22.47,0.00)"><line x1="1.63" y1="-8.77" x2="1.63" y2="2.92" stroke="#333" stroke-width="0.70"/><text x="3.25" y="0.58" font-family="'Liberation Serif', serif" font-style="normal" font-size="14.62" text-anchor="start" fill="#333"  stroke="#fff" stroke-width="0.05">↓</text><polyline points="11.56,-8.77 13.61,-2.92 11.56,2.92" fill="none" stroke="#333" stroke-width="0.70" stroke-linejoin="miter"/><text x="18.58" y="0.70" font-family="'Liberation Serif', serif" font-style="normal" font-size="16.38" text-anchor="start" fill="#333"  stroke="#fff" stroke-width="0.07">≡</text><line x1="32.95" y1="-8.77" x2="32.95" y2="2.92" stroke="#333" stroke-width="0.70"/><text x="34.58" y="0.00" font-family="'Liberation Serif', serif" font-style="normal" font-size="11.70" text-anchor="start" fill="#333" >1</text><polyline points="41.42,-8.77 43.47,-2.92 41.42,2.92" fill="none" stroke="#333" stroke-width="0.70" stroke-linejoin="miter"/></g>
<g transform="translate(123.30,67.72) translate(-8.43,0.00)"><line x1="1.63" y1="-8.77" x2="1.63" y2="2.92" stroke="#333" stroke-width="0.70"/><line x1="4.18" y1="-2.92" x2="11.43" y2="-2.92" stroke="#333" stroke-width="0.70"/><polyline points="13.35,-8.77 15.40,-2.92 13.35,2.92" fill="none" stroke="#333" stroke-width="0.70" stroke-linejoin="miter"/></g>
<g transform="translate(240.60,67.72) translate(-8.43,0.00)"><line x1="1.63" y1="-8.77" x2="1.63" y2="2.92" stroke="#333" stroke-width="0.70"/><line x1="4.18" y1="-2.92" x2="11.43" y2="-2.92" stroke="#333" stroke-width="0.70"/><line x1="7.80" y1="-6.55" x2="7.80" y2="0.70" stroke="#333" stroke-width="0.70"/><polyline points="13.35,-8.77 15.40,-2.92 13.35,2.92" fill="none" stroke="#333" stroke-width="0.70" stroke-linejoin="miter"/></g>
<g transform="translate(211.20,48.92) translate(-9.99,0.00)"><line x1="1.63" y1="-8.77" x2="1.63" y2="2.92" stroke="#333" stroke-width="0.70"/><line x1="4.18" y1="-2.92" x2="11.43" y2="-2.92" stroke="#333" stroke-width="0.70"/><line x1="7.80" y1="-6.55" x2="7.80" y2="0.70" stroke="#333" stroke-width="0.70"/><text transform="translate(12.36,1.99) scale(1.200,1)" font-family="'Liberation Serif', serif" font-style="italic" font-size="9.36" text-anchor="start" fill="#333" >i</text><polyline points="16.47,-8.77 18.52,-2.92 16.47,2.92" fill="none" stroke="#333" stroke-width="0.70" stroke-linejoin="miter"/></g>
<g transform="translate(154.70,97.83) translate(-9.99,0.00)"><line x1="1.63" y1="-8.77" x2="1.63" y2="2.92" stroke="#999" stroke-width="0.70"/><line x1="4.18" y1="-2.92" x2="11.43" y2="-2.92" stroke="#999" stroke-width="0.70"/><text transform="translate(12.36,1.99) scale(1.200,1)" font-family="'Liberation Serif', serif" font-style="italic" font-size="9.36" text-anchor="start" fill="#999" >i</text><polyline points="16.47,-8.77 18.52,-2.92 16.47,2.92" fill="none" stroke="#999" stroke-width="0.70" stroke-linejoin="miter"/></g>
<circle cx="90.4" cy="126.4" r="3.0" fill="#000"/>
<line x1="90.40" y1="126.40" x2="90.40" y2="96.82" stroke="#000" stroke-width="1.9"/><polygon points="90.40,89.00 93.70,98.20 90.40,96.82 87.10,98.20" fill="#000"/>
<line x1="90.40" y1="126.40" x2="121.48" y2="126.40" stroke="#000" stroke-width="1.9"/><polygon points="129.30,126.40 120.10,129.70 121.48,126.40 120.10,123.10" fill="#000"/>
<line x1="90.40" y1="126.40" x2="104.20" y2="116.70" stroke="#000" stroke-width="1.9"/><polygon points="110.60,112.20 104.97,120.19 104.20,116.70 101.18,114.79" fill="#000"/>
<text x="95.50" y="96.20" font-family="'Liberation Sans', sans-serif" font-style="normal" font-size="17.00" text-anchor="start" fill="#000" textLength="10" lengthAdjust="spacingAndGlyphs">z</text>
<text x="109.50" y="108.80" font-family="'Liberation Sans', sans-serif" font-style="normal" font-size="17.00" text-anchor="start" fill="#000" textLength="10" lengthAdjust="spacingAndGlyphs">y</text>
<text x="119.80" y="122.30" font-family="'Liberation Sans', sans-serif" font-style="normal" font-size="17.00" text-anchor="start" fill="#000" textLength="10" lengthAdjust="spacingAndGlyphs">x</text>
<rect x="426.2" y="41.1" width="148.9" height="42" rx="21" ry="21" fill="#b3e0ea"/>
<line x1="336.5" y1="156.3" x2="440" y2="72.5" stroke="#000" stroke-width="6.8"/>
<line x1="325.5" y1="165.2" x2="338" y2="155.1" stroke="url(#gla)" stroke-width="6.8"/>
<line x1="495.6" y1="149" x2="536.0" y2="76" stroke="#000" stroke-width="7.4"/>
<line x1="488.6" y1="160.6" x2="496.5" y2="147.4" stroke="url(#glb)" stroke-width="7.4"/>
<circle cx="452.4" cy="61.5" r="16.6" fill="#a3b4e6"/>
<g clip-path="url(#cp1)"><ellipse cx="452.4" cy="58.9" rx="17.2" ry="16.2" fill="#1650d6"/></g>
<circle cx="452.4" cy="61.5" r="16.6" fill="none" stroke="#000" stroke-width="1.6"/>
<circle cx="547.3" cy="61.5" r="16.6" fill="#a3b4e6"/>
<g clip-path="url(#cp2)"><ellipse cx="547.3" cy="58.9" rx="17.2" ry="16.2" fill="#1650d6"/></g>
<circle cx="547.3" cy="61.5" r="16.6" fill="none" stroke="#000" stroke-width="1.6"/>
<polyline points="412.30,60.59 412.47,60.58 412.63,60.57 412.80,60.57 412.97,60.55 413.13,60.54 413.30,60.53 413.47,60.51 413.63,60.49 413.80,60.47 413.97,60.45 414.13,60.42 414.30,60.40 414.47,60.38 414.64,60.35 414.80,60.33 414.97,60.31 415.14,60.29 415.30,60.27 415.47,60.25 415.64,60.24 415.80,60.23 415.97,60.23 416.14,60.23 416.30,60.23 416.47,60.25 416.64,60.26 416.80,60.29 416.97,60.32 417.14,60.35 417.30,60.40 417.47,60.44 417.64,60.50 417.80,60.55 417.97,60.61 418.14,60.68 418.31,60.75 418.47,60.81 418.64,60.88 418.81,60.95 418.97,61.01 419.14,61.07 419.31,61.12 419.47,61.16 419.64,61.20 419.81,61.23 419.97,61.24 420.14,61.24 420.31,61.23 420.47,61.20 420.64,61.16 420.81,61.10 420.97,61.03 421.14,60.94 421.31,60.84 421.47,60.72 421.64,60.59 421.81,60.45 421.98,60.30 422.14,60.14 422.31,59.97 422.48,59.81 422.64,59.64 422.81,59.48 422.98,59.32 423.14,59.18 423.31,59.05 423.48,58.94 423.64,58.84 423.81,58.77 423.98,58.73 424.14,58.72 424.31,58.74 424.48,58.79 424.64,58.88 424.81,59.00 424.98,59.16 425.14,59.35 425.31,59.57 425.48,59.83 425.65,60.12 425.81,60.43 425.98,60.76 426.15,61.11 426.31,61.47 426.48,61.83 426.65,62.19 426.81,62.55 426.98,62.89 427.15,63.21 427.31,63.49 427.48,63.75 427.65,63.95 427.81,64.11 427.98,64.22 428.15,64.26 428.31,64.24 428.48,64.16 428.65,64.00 428.81,63.77 428.98,63.47 429.15,63.10 429.32,62.67 429.48,62.17 429.65,61.62 429.82,61.01 429.98,60.37 430.15,59.70 430.32,59.00 430.48,58.30 430.65,57.59 430.82,56.90 430.98,56.25 431.15,55.63 431.32,55.07 431.48,54.57 431.65,54.16 431.82,53.83 431.98,53.61 432.15,53.49 432.32,53.50 432.48,53.62 432.65,53.87 432.82,54.25 432.99,54.76 433.15,55.38 433.32,56.12 433.49,56.97 433.65,57.92 433.82,58.96 433.99,60.06 434.15,61.22 434.32,62.42 434.49,63.63 434.65,64.83 434.82,66.01 434.99,67.14 435.15,68.20 435.32,69.17 435.49,70.03 435.65,70.76 435.82,71.34 435.99,71.75 436.15,71.99 436.32,72.04 436.49,71.89 436.66,71.54 436.82,70.99 436.99,70.24 437.16,69.30 437.32,68.18 437.49,66.89 437.66,65.45 437.82,63.87 437.99,62.19 438.16,60.43 438.32,58.61 438.49,56.77 438.66,54.94 438.82,53.15 438.99,51.43 439.16,49.81 439.32,48.33 439.49,47.01 439.66,45.89 439.82,44.98 439.99,44.31 440.16,43.90 440.33,43.76 440.49,43.89 440.66,44.31 440.83,45.02 440.99,46.00 441.16,47.25 441.33,48.75 441.49,50.49 441.66,52.43 441.83,54.55 441.99,56.81 442.16,59.19 442.33,61.64 442.49,64.12 442.66,66.58 442.83,68.99 442.99,71.31 443.16,73.49 443.33,75.49 443.49,77.27 443.66,78.81 443.83,80.06 444.00,81.01 444.16,81.63 444.33,81.91 444.50,81.83 444.66,81.39 444.83,80.60 445.00,79.47 445.16,78.00 445.33,76.22 445.50,74.16 445.66,71.84 445.83,69.31 446.00,66.60 446.16,63.76 446.33,60.84 446.50,57.88 446.66,54.94 446.83,52.06 447.00,49.30 447.16,46.70 447.33,44.31 447.50,42.17 447.67,40.32 447.83,38.79 448.00,37.61 448.17,36.81 448.33,36.39 448.50,36.37 448.67,36.75 448.83,37.52 449.00,38.68 449.17,40.21 449.33,42.07 449.50,44.24 449.67,46.69 449.83,49.37 450.00,52.23 450.17,55.24 450.33,58.33 450.50,61.46 450.67,64.57 450.83,67.61 451.00,70.53 451.17,73.28 451.34,75.81 451.50,78.08 451.67,80.06 451.84,81.70 452.00,82.99 452.17,83.91 452.34,84.43 452.50,84.55 452.67,84.28 452.84,83.62 453.00,82.58 453.17,81.19 453.34,79.46 453.50,77.43 453.67,75.14 453.84,72.63 454.00,69.95 454.17,67.13 454.34,64.23 454.50,61.29 454.67,58.38 454.84,55.53 455.01,52.80 455.17,50.22 455.34,47.85 455.51,45.72 455.67,43.85 455.84,42.29 456.01,41.04 456.17,40.14 456.34,39.58 456.51,39.37 456.67,39.52 456.84,40.01 457.01,40.83 457.17,41.96 457.34,43.37 457.51,45.04 457.67,46.94 457.84,49.02 458.01,51.25 458.17,53.60 458.34,56.01 458.51,58.44 458.68,60.86 458.84,63.23 459.01,65.49 459.18,67.63 459.34,69.60 459.51,71.38 459.68,72.94 459.84,74.25 460.01,75.31 460.18,76.10 460.34,76.61 460.51,76.85 460.68,76.80 460.84,76.50 461.01,75.93 461.18,75.13 461.34,74.10 461.51,72.89 461.68,71.50 461.84,69.96 462.01,68.32 462.18,66.60 462.35,64.82 462.51,63.03 462.68,61.25 462.85,59.51 463.01,57.84 463.18,56.27 463.35,54.82 463.51,53.51 463.68,52.36 463.85,51.38 464.01,50.59 464.18,49.98 464.35,49.57 464.51,49.36 464.68,49.34 464.85,49.50 465.01,49.84 465.18,50.34 465.35,51.00 465.51,51.78 465.68,52.68 465.85,53.68 466.02,54.75 466.18,55.88 466.35,57.03 466.52,58.20 466.68,59.36 466.85,60.49 467.02,61.58 467.18,62.60 467.35,63.55 467.52,64.40 467.68,65.16 467.85,65.80 468.02,66.33 468.18,66.74 468.35,67.02 468.52,67.19 468.68,67.23 468.85,67.17 469.02,66.99 469.18,66.71 469.35,66.34 469.52,65.90 469.69,65.38 469.85,64.81 470.02,64.19 470.19,63.54 470.35,62.87 470.52,62.19 470.69,61.52 470.85,60.87 471.02,60.24 471.19,59.65 471.35,59.11 471.52,58.61 471.69,58.17 471.85,57.80 472.02,57.49 472.19,57.25 472.35,57.07 472.52,56.96 472.69,56.92 472.85,56.94 473.02,57.02 473.19,57.15 473.36,57.34 473.52,57.56 473.69,57.82 473.86,58.12 474.02,58.43 474.19,58.76 474.36,59.11 474.52,59.45 474.69,59.80 474.86,60.13 475.02,60.45 475.19,60.75 475.36,61.03 475.52,61.28 475.69,61.51 475.86,61.70 476.02,61.86 476.19,61.99 476.36,62.08 476.52,62.15 476.69,62.17 476.86,62.17 477.03,62.14 477.19,62.09 477.36,62.01 477.53,61.91 477.69,61.79 477.86,61.66 478.03,61.52 478.19,61.37 478.36,61.21 478.53,61.05 478.69,60.90 478.86,60.75 479.03,60.60 479.19,60.47 479.36,60.34 479.53,60.22 479.69,60.12 479.86,60.03 480.03,59.96 480.19,59.90 480.36,59.86 480.53,59.83 480.70,59.81 480.86,59.81 481.03,59.82 481.20,59.84 481.36,59.87 481.53,59.91 481.70,59.95 481.86,60.00 482.03,60.06 482.20,60.12 482.36,60.18 482.53,60.25 482.70,60.31 482.86,60.37 483.03,60.43 483.20,60.48 483.36,60.53 483.53,60.58 483.70,60.62 483.86,60.66 484.03,60.69 484.20,60.71 484.37,60.73 484.53,60.74 484.70,60.75 484.87,60.75 485.03,60.75 485.20,60.74 485.37,60.73 485.53,60.72 485.70,60.70 485.87,60.69 486.03,60.67 486.20,60.64" fill="none" stroke="#2424f4" stroke-width="1.9" stroke-linejoin="round" opacity="0.9"/>
<line x1="485.20" y1="60.50" x2="487.82" y2="60.50" stroke="#1c1cf0" stroke-width="1.5"/><polygon points="492.70,60.50 486.20,63.00 487.82,60.50 486.20,58.00" fill="#1c1cf0"/>
<polyline points="506.70,60.59 506.87,60.59 507.03,60.59 507.20,60.59 507.37,60.58 507.53,60.58 507.70,60.57 507.87,60.56 508.03,60.55 508.20,60.54 508.37,60.52 508.53,60.50 508.70,60.48 508.87,60.46 509.04,60.44 509.20,60.41 509.37,60.39 509.54,60.37 509.70,60.34 509.87,60.32 510.04,60.30 510.20,60.28 510.37,60.26 510.54,60.25 510.70,60.24 510.87,60.23 511.04,60.23 511.20,60.23 511.37,60.24 511.54,60.25 511.70,60.27 511.87,60.30 512.04,60.33 512.20,60.37 512.37,60.41 512.54,60.46 512.71,60.52 512.87,60.58 513.04,60.64 513.21,60.71 513.37,60.77 513.54,60.84 513.71,60.91 513.87,60.97 514.04,61.03 514.21,61.09 514.37,61.14 514.54,61.18 514.71,61.21 514.87,61.23 515.04,61.24 515.21,61.24 515.37,61.22 515.54,61.19 515.71,61.14 515.87,61.08 516.04,61.00 516.21,60.90 516.38,60.79 516.54,60.67 516.71,60.53 516.88,60.39 517.04,60.23 517.21,60.07 517.38,59.91 517.54,59.74 517.71,59.58 517.88,59.42 518.04,59.26 518.21,59.12 518.38,59.00 518.54,58.90 518.71,58.81 518.88,58.75 519.04,58.72 519.21,58.72 519.38,58.76 519.54,58.82 519.71,58.92 519.88,59.06 520.05,59.23 520.21,59.43 520.38,59.67 520.55,59.94 520.71,60.24 520.88,60.56 521.05,60.90 521.21,61.25 521.38,61.61 521.55,61.98 521.71,62.34 521.88,62.69 522.05,63.02 522.21,63.33 522.38,63.60 522.55,63.84 522.71,64.03 522.88,64.16 523.05,64.24 523.21,64.26 523.38,64.22 523.55,64.10 523.72,63.91 523.88,63.66 524.05,63.33 524.22,62.93 524.38,62.47 524.55,61.95 524.72,61.38 524.88,60.76 525.05,60.10 525.22,59.42 525.38,58.72 525.55,58.01 525.72,57.31 525.88,56.63 526.05,55.99 526.22,55.39 526.38,54.86 526.55,54.39 526.72,54.01 526.88,53.73 527.05,53.55 527.22,53.48 527.39,53.53 527.55,53.71 527.72,54.01 527.89,54.44 528.05,54.99 528.22,55.67 528.39,56.45 528.55,57.35 528.72,58.33 528.89,59.40 529.05,60.52 529.22,61.70 529.39,62.90 529.55,64.11 529.72,65.31 529.89,66.47 530.05,67.58 530.22,68.61 530.39,69.54 530.55,70.34 530.72,71.01 530.89,71.53 531.06,71.87 531.22,72.03 531.39,72.00 531.56,71.77 531.72,71.34 531.89,70.71 532.06,69.88 532.22,68.87 532.39,67.68 532.56,66.32 532.72,64.83 532.89,63.21 533.06,61.49 533.22,59.70 533.39,57.87 533.56,56.03 533.72,54.21 533.89,52.44 534.06,50.76 534.22,49.20 534.39,47.78 534.56,46.54 534.73,45.50 534.89,44.68 535.06,44.12 535.23,43.81 535.39,43.78 535.56,44.03 535.73,44.56 535.89,45.38 536.06,46.47 536.23,47.83 536.39,49.42 536.56,51.24 536.73,53.26 536.89,55.45 537.06,57.76 537.23,60.17 537.39,62.64 537.56,65.11 537.73,67.56 537.89,69.94 538.06,72.21 538.23,74.32 538.40,76.24 538.56,77.92 538.73,79.35 538.90,80.48 539.06,81.30 539.23,81.78 539.40,81.92 539.56,81.70 539.73,81.12 539.90,80.19 540.06,78.91 540.23,77.32 540.40,75.42 540.56,73.25 540.73,70.84 540.90,68.24 541.06,65.47 541.23,62.59 541.40,59.65 541.56,56.69 541.73,53.77 541.90,50.93 542.07,48.23 542.23,45.71 542.40,43.41 542.57,41.39 542.73,39.66 542.90,38.27 543.07,37.24 543.23,36.59 543.40,36.33 543.57,36.47 543.73,37.01 543.90,37.95 544.07,39.25 544.23,40.92 544.40,42.91 544.57,45.20 544.73,47.74 544.90,50.50 545.07,53.43 545.23,56.48 545.40,59.59 545.57,62.72 545.74,65.81 545.90,68.81 546.07,71.66 546.24,74.33 546.40,76.76 546.57,78.92 546.74,80.76 546.90,82.27 547.07,83.41 547.24,84.16 547.40,84.53 547.57,84.49 547.74,84.06 547.90,83.25 548.07,82.06 548.24,80.53 548.40,78.68 548.57,76.54 548.74,74.16 548.90,71.57 549.07,68.82 549.24,65.96 549.41,63.05 549.57,60.11 549.74,57.22 549.91,54.41 550.07,51.74 550.24,49.24 550.41,46.96 550.57,44.93 550.74,43.18 550.91,41.74 551.07,40.64 551.24,39.87 551.41,39.45 551.57,39.39 551.74,39.68 551.91,40.30 552.07,41.25 552.24,42.49 552.41,44.02 552.57,45.78 552.74,47.76 552.91,49.91 553.08,52.19 553.24,54.56 553.41,56.99 553.58,59.42 553.74,61.82 553.91,64.15 554.08,66.37 554.24,68.45 554.41,70.34 554.58,72.03 554.74,73.50 554.91,74.71 555.08,75.66 555.24,76.34 555.41,76.74 555.58,76.86 555.74,76.71 555.91,76.30 556.08,75.63 556.24,74.74 556.41,73.63 556.58,72.34 556.75,70.89 556.91,69.31 557.08,67.63 557.25,65.88 557.41,64.10 557.58,62.31 557.75,60.54 557.91,58.83 558.08,57.20 558.25,55.67 558.41,54.28 558.58,53.03 558.75,51.95 558.91,51.04 559.08,50.32 559.25,49.79 559.41,49.46 559.58,49.33 559.75,49.38 559.91,49.62 560.08,50.02 560.25,50.59 560.42,51.30 560.58,52.13 560.75,53.07 560.92,54.10 561.08,55.20 561.25,56.34 561.42,57.50 561.58,58.67 561.75,59.82 561.92,60.94 562.08,62.00 562.25,63.00 562.42,63.91 562.58,64.72 562.75,65.43 562.92,66.03 563.08,66.51 563.25,66.87 563.42,67.10 563.58,67.22 563.75,67.22 563.92,67.11 564.09,66.89 564.25,66.57 564.42,66.17 564.59,65.69 564.75,65.15 564.92,64.56 565.09,63.93 565.25,63.27 565.42,62.60 565.59,61.92 565.75,61.26 565.92,60.61 566.09,60.00 566.25,59.43 566.42,58.90 566.59,58.43 566.75,58.02 566.92,57.67 567.09,57.38 567.25,57.17 567.42,57.02 567.59,56.94 567.76,56.92 567.92,56.97 568.09,57.07 568.26,57.22 568.42,57.42 568.59,57.66 568.76,57.94 568.92,58.24 569.09,58.56 569.26,58.90 569.42,59.25 569.59,59.59 569.76,59.93 569.92,60.26 570.09,60.57 570.26,60.87 570.42,61.14 570.59,61.38 570.76,61.59 570.92,61.77 571.09,61.92 571.26,62.03 571.43,62.11 571.59,62.16 571.76,62.18 571.93,62.16 572.09,62.12 572.26,62.06 572.43,61.97 572.59,61.86 572.76,61.74 572.93,61.60 573.09,61.46 573.26,61.30 573.43,61.15 573.59,60.99 573.76,60.84 573.93,60.69 574.09,60.55 574.26,60.41 574.43,60.29 574.59,60.18 574.76,60.08 574.93,60.00 575.10,59.93 575.26,59.88 575.43,59.84 575.60,59.82 575.76,59.81 575.93,59.81 576.10,59.82 576.26,59.85 576.43,59.88 576.60,59.92 576.76,59.97 576.93,60.03 577.10,60.09 577.26,60.15 577.43,60.21 577.60,60.27 577.76,60.33 577.93,60.39 578.10,60.45 578.26,60.50 578.43,60.55 578.60,60.60 578.77,60.64 578.93,60.67 579.10,60.70 579.27,60.72 579.43,60.74 579.60,60.75 579.77,60.75 579.93,60.75 580.10,60.75 580.27,60.74 580.43,60.73 580.60,60.71" fill="none" stroke="#2424f4" stroke-width="1.9" stroke-linejoin="round" opacity="0.9"/>
<line x1="579.60" y1="60.50" x2="582.23" y2="60.50" stroke="#1c1cf0" stroke-width="1.5"/><polygon points="587.10,60.50 580.60,63.00 582.23,60.50 580.60,58.00" fill="#1c1cf0"/>
<line x1="500.60" y1="40.90" x2="500.60" y2="35.21" stroke="#000" stroke-width="2.2"/><polygon points="500.60,29.40 504.10,36.00 500.60,35.21 497.10,36.00" fill="#000"/>
<g filter="url(#blur1)"><polyline points="327,171.80 328,171.86 329,171.97 330,172.06 331,172.13 332,172.16 333,172.14 334,172.08 335,171.96 336,171.80 337,171.58 338,171.34 339,171.06 340,170.76 341,170.46 342,170.16 343,169.88 344,169.63 345,169.41 346,169.24 347,169.11 348,169.03 349,168.99 350,169.00 351,169.04 352,169.11 353,169.19 354,169.28 355,169.37 356,169.43 357,169.47 358,169.47 359,169.43 360,169.34 361,169.21 362,169.03 363,168.82 364,168.57 365,168.30 366,168.02 367,167.74 368,167.47 369,167.22 370,167.02 371,166.85 372,166.74 373,166.68 374,166.69 375,166.75 376,166.86 377,167.02 378,167.21 379,167.43 380,167.67 381,167.90 382,168.13 383,168.33 384,168.50 385,168.63 386,168.71 387,168.74 388,168.72 389,168.65 390,168.54 391,168.39 392,168.22 393,168.03 394,167.84 395,167.66 396,167.50 397,167.36 398,167.27 399,167.21 400,167.21 401,167.24 402,167.33 403,167.45 404,167.60 405,167.78 406,167.96 407,168.15 408,168.32 409,168.48 410,168.60 411,168.68 412,168.71 413,168.70 414,168.64 415,168.54 416,168.39 417,168.21 418,168.01 419,167.80 420,167.59 421,167.40 422,167.23 423,167.10 424,167.02 425,166.98 426,167.01 427,167.09 428,167.23 429,167.43 430,167.67 431,167.94 432,168.24 433,168.56 434,168.87 435,169.17 436,169.45 437,169.70 438,169.90 439,170.06 440,170.18 441,170.24 442,170.26 443,170.24 444,170.19 445,170.11 446,170.03 447,169.95 448,169.88 449,169.83 450,169.81 451,169.84 452,169.91 453,170.02 454,170.18 455,170.39 456,170.63 457,170.91 458,171.20 459,171.50 460,171.80 461,172.09 462,172.37 463,172.62 464,172.87" fill="none" stroke="#8fead9" stroke-width="2.6"/><polyline points="327,178.78 328,178.58 329,178.39 330,178.15 331,177.88 332,177.57 333,177.22 334,176.86 335,176.48 336,176.11 337,175.75 338,175.42 339,175.13 340,174.88 341,174.68 342,174.54 343,174.46 344,174.43 345,174.46 346,174.53 347,174.63 348,174.76 349,174.90 350,175.03 351,175.16 352,175.27 353,175.34 354,175.37 355,175.36 356,175.31 357,175.21 358,175.08 359,174.90 360,174.71 361,174.50 362,174.28 363,174.07 364,173.88 365,173.72 366,173.59 367,173.51 368,173.47 369,173.48 370,173.54 371,173.65 372,173.79 373,173.95 374,174.13 375,174.32 376,174.50 377,174.66 378,174.79 379,174.88 380,174.92 381,174.91 382,174.85 383,174.73 384,174.56 385,174.35 386,174.11 387,173.84 388,173.56 389,173.28 390,173.01 391,172.77 392,172.57 393,172.41 394,172.31 395,172.25 396,172.26 397,172.31 398,172.42 399,172.56 400,172.74 401,172.93 402,173.14 403,173.34 404,173.53 405,173.70 406,173.83 407,173.92 408,173.98 409,173.98 410,173.95 411,173.88 412,173.78 413,173.66 414,173.53 415,173.40 416,173.28 417,173.19 418,173.12 419,173.10 420,173.13 421,173.21 422,173.33 423,173.51 424,173.73 425,173.98 426,174.26 427,174.56 428,174.86 429,175.14 430,175.41 431,175.65 432,175.84 433,175.98 434,176.07 435,176.11 436,176.09 437,176.02 438,175.91 439,175.76 440,175.59 441,175.41 442,175.23 443,175.07 444,174.93 445,174.82 446,174.76 447,174.75 448,174.79 449,174.89 450,175.03 451,175.22 452,175.45 453,175.70 454,175.98 455,176.25 456,176.53 457,176.78 458,177.01 459,177.21 460,177.38 461,177.50 462,177.59 463,177.65 464,177.74" fill="none" stroke="#8fead9" stroke-width="2.6"/></g>
<polyline points="327,171.80 328,171.86 329,171.97 330,172.06 331,172.13 332,172.16 333,172.14 334,172.08 335,171.96 336,171.80 337,171.58 338,171.34 339,171.06 340,170.76 341,170.46 342,170.16 343,169.88 344,169.63 345,169.41 346,169.24 347,169.11 348,169.03 349,168.99 350,169.00 351,169.04 352,169.11 353,169.19 354,169.28 355,169.37 356,169.43 357,169.47 358,169.47 359,169.43 360,169.34 361,169.21 362,169.03 363,168.82 364,168.57 365,168.30 366,168.02 367,167.74 368,167.47 369,167.22 370,167.02 371,166.85 372,166.74 373,166.68 374,166.69 375,166.75 376,166.86 377,167.02 378,167.21 379,167.43 380,167.67 381,167.90 382,168.13 383,168.33 384,168.50 385,168.63 386,168.71 387,168.74 388,168.72 389,168.65 390,168.54 391,168.39 392,168.22 393,168.03 394,167.84 395,167.66 396,167.50 397,167.36 398,167.27 399,167.21 400,167.21 401,167.24 402,167.33 403,167.45 404,167.60 405,167.78 406,167.96 407,168.15 408,168.32 409,168.48 410,168.60 411,168.68 412,168.71 413,168.70 414,168.64 415,168.54 416,168.39 417,168.21 418,168.01 419,167.80 420,167.59 421,167.40 422,167.23 423,167.10 424,167.02 425,166.98 426,167.01 427,167.09 428,167.23 429,167.43 430,167.67 431,167.94 432,168.24 433,168.56 434,168.87 435,169.17 436,169.45 437,169.70 438,169.90 439,170.06 440,170.18 441,170.24 442,170.26 443,170.24 444,170.19 445,170.11 446,170.03 447,169.95 448,169.88 449,169.83 450,169.81 451,169.84 452,169.91 453,170.02 454,170.18 455,170.39 456,170.63 457,170.91 458,171.20 459,171.50 460,171.80 461,172.09 462,172.37 463,172.62 464,172.87" fill="none" stroke="#b9f4ea" stroke-width="1.4"/><polyline points="327,178.78 328,178.58 329,178.39 330,178.15 331,177.88 332,177.57 333,177.22 334,176.86 335,176.48 336,176.11 337,175.75 338,175.42 339,175.13 340,174.88 341,174.68 342,174.54 343,174.46 344,174.43 345,174.46 346,174.53 347,174.63 348,174.76 349,174.90 350,175.03 351,175.16 352,175.27 353,175.34 354,175.37 355,175.36 356,175.31 357,175.21 358,175.08 359,174.90 360,174.71 361,174.50 362,174.28 363,174.07 364,173.88 365,173.72 366,173.59 367,173.51 368,173.47 369,173.48 370,173.54 371,173.65 372,173.79 373,173.95 374,174.13 375,174.32 376,174.50 377,174.66 378,174.79 379,174.88 380,174.92 381,174.91 382,174.85 383,174.73 384,174.56 385,174.35 386,174.11 387,173.84 388,173.56 389,173.28 390,173.01 391,172.77 392,172.57 393,172.41 394,172.31 395,172.25 396,172.26 397,172.31 398,172.42 399,172.56 400,172.74 401,172.93 402,173.14 403,173.34 404,173.53 405,173.70 406,173.83 407,173.92 408,173.98 409,173.98 410,173.95 411,173.88 412,173.78 413,173.66 414,173.53 415,173.40 416,173.28 417,173.19 418,173.12 419,173.10 420,173.13 421,173.21 422,173.33 423,173.51 424,173.73 425,173.98 426,174.26 427,174.56 428,174.86 429,175.14 430,175.41 431,175.65 432,175.84 433,175.98 434,176.07 435,176.11 436,176.09 437,176.02 438,175.91 439,175.76 440,175.59 441,175.41 442,175.23 443,175.07 444,174.93 445,174.82 446,174.76 447,174.75 448,174.79 449,174.89 450,175.03 451,175.22 452,175.45 453,175.70 454,175.98 455,176.25 456,176.53 457,176.78 458,177.01 459,177.21 460,177.38 461,177.50 462,177.59 463,177.65 464,177.74" fill="none" stroke="#b9f4ea" stroke-width="1.4"/>
<line x1="306.50" y1="165.00" x2="300.57" y2="151.63" stroke="#8a8a8a" stroke-width="3.6"/><polygon points="295.50,140.20 305.82,149.30 300.57,151.63 295.31,153.96" fill="#8a8a8a"/>
<circle cx="311.5" cy="175.5" r="16.6" fill="#ef8a97" stroke="#8a8a8a" stroke-width="1.7"/>
<g clip-path="url(#ca)"><rect x="290" y="170" width="44" height="30" fill="#fbd3d8"/><ellipse cx="311.5" cy="173.0" rx="16.4" ry="15.2" fill="#ef8a97"/></g>
<line x1="315.2" y1="181.8" x2="324.6" y2="200.3" stroke="#8a8a8a" stroke-width="3.6"/>
<line x1="475.50" y1="165.00" x2="468.25" y2="151.73" stroke="#000" stroke-width="4.0"/><polygon points="462.50,141.20 472.86,149.21 468.25,151.73 463.64,154.25" fill="#000"/>
<circle cx="480.9" cy="175.4" r="16.3" fill="#d0021b" stroke="#000" stroke-width="2"/>
<g clip-path="url(#cb)"><rect x="460" y="170" width="44" height="30" fill="#f6a6ae"/><ellipse cx="480.9" cy="172.6" rx="16.2" ry="15.4" fill="#d0021b"/></g>
<line x1="483.9" y1="182.1" x2="494.9" y2="199.6" stroke="#000" stroke-width="4.2"/>
<rect x="250.3" y="165.5" width="36.8" height="24.8" fill="#fff" stroke="#333" stroke-width="1"/>
<path d="M256.30,181.40 Q268.70,163.20 281.10,181.40" fill="none" stroke="#222" stroke-width="1.1"/>
<circle cx="269.00" cy="184.00" r="1.9" fill="#000"/>
<line x1="269.00" y1="184.00" x2="276.83" y2="174.04" stroke="#000" stroke-width="1.2"/><polygon points="279.30,170.90 277.85,174.85 276.83,174.04 275.81,173.24" fill="#000"/>
<rect x="504.3" y="165.5" width="36.8" height="24.8" fill="#fff" stroke="#333" stroke-width="1"/>
<path d="M510.30,181.40 Q522.70,163.20 535.10,181.40" fill="none" stroke="#222" stroke-width="1.1"/>
<circle cx="523.00" cy="184.00" r="1.9" fill="#000"/>
<line x1="523.00" y1="184.00" x2="530.83" y2="174.04" stroke="#000" stroke-width="1.2"/><polygon points="533.30,170.90 531.85,174.85 530.83,174.04 529.81,173.24" fill="#000"/>
<line x1="250.30" y1="177.70" x2="236.40" y2="177.70" stroke="#000" stroke-width="2.0"/><polygon points="229.60,177.70 238.10,174.00 236.40,177.70 238.10,181.40" fill="#000"/>
<line x1="541.10" y1="177.60" x2="555.80" y2="177.60" stroke="#000" stroke-width="2.0"/><polygon points="562.60,177.60 554.10,181.30 555.80,177.60 554.10,173.90" fill="#000"/>
<circle cx="102.8" cy="206.3" r="3.4" fill="#000"/>
<line x1="102.8" y1="206.4" x2="674" y2="206.4" stroke="#000" stroke-width="2.7"/>
<polygon points="684.2,206.4 669.2,201.6 672.5,206.4 669.2,211.2" fill="#000"/>
<line x1="311.2" y1="206" x2="311.2" y2="211.8" stroke="#000" stroke-width="1.5"/>
<line x1="481.8" y1="206" x2="481.8" y2="211.8" stroke="#000" stroke-width="1.5"/>
<text x="629.80" y="229.70" font-family="'Liberation Sans', sans-serif" font-style="normal" font-size="21.20" text-anchor="start" fill="#111" textLength="46.6" lengthAdjust="spacingAndGlyphs">time</text>
<text x="-1.60" y="22.50" font-family="'Liberation Sans', sans-serif" font-style="normal" font-size="26.50" text-anchor="start" fill="#000" textLength="39.0" lengthAdjust="spacingAndGlyphs" stroke="#000" stroke-width="0.05">(a)</text>
<text transform="translate(302.47,234.30) scale(0.999,1)" font-family="'Liberation Serif', serif" font-style="italic" font-size="31.80" text-anchor="start" fill="#151515"  stroke="#fff" stroke-width="0.24">t</text>
<text transform="translate(312.96,238.70) scale(1.193,1)" font-family="'Liberation Serif', serif" font-style="italic" font-size="20.67" text-anchor="start" fill="#151515"  stroke="#fff" stroke-width="0.13">a</text>
<text transform="translate(472.44,234.00) scale(1.024,1)" font-family="'Liberation Serif', serif" font-style="italic" font-size="31.80" text-anchor="start" fill="#151515"  stroke="#fff" stroke-width="0.25">t</text>
<text transform="translate(483.19,238.40) scale(0.979,1)" font-family="'Liberation Serif', serif" font-style="italic" font-size="20.67" text-anchor="start" fill="#151515"  stroke="#fff" stroke-width="0.11">b</text>
<text transform="translate(110.86,186.00) scale(1.143,1)" font-family="'Liberation Serif', serif" font-style="italic" font-size="26.50" text-anchor="start" fill="#151515"  stroke="#fff" stroke-width="0.20">X</text>
<text transform="translate(132.18,190.80) scale(1.221,1)" font-family="'Liberation Serif', serif" font-style="italic" font-size="19.61" text-anchor="start" fill="#151515"  stroke="#fff" stroke-width="0.12">a</text>
<path d="M149.30,185.00 L153.10,185.00 L149.10,194.20 L146.70,194.20 Z" fill="#000"/>
<text transform="translate(156.92,186.00) scale(1.017,1)" font-family="'Liberation Serif', serif" font-style="italic" font-size="26.50" text-anchor="start" fill="#151515"  stroke="#fff" stroke-width="0.18">Y</text>
<text transform="translate(173.32,190.80) scale(1.162,1)" font-family="'Liberation Serif', serif" font-style="italic" font-size="19.61" text-anchor="start" fill="#151515"  stroke="#fff" stroke-width="0.11">a</text>
<path d="M193.40,185.00 L197.20,185.00 L193.20,194.20 L190.80,194.20 Z" fill="#000"/>
<text transform="translate(198.97,186.00) scale(1.231,1)" font-family="'Liberation Serif', serif" font-style="italic" font-size="26.50" text-anchor="start" fill="#151515"  stroke="#fff" stroke-width="0.22">Z</text>
<text transform="translate(217.72,190.80) scale(1.162,1)" font-family="'Liberation Serif', serif" font-style="italic" font-size="19.61" text-anchor="start" fill="#151515"  stroke="#fff" stroke-width="0.11">a</text>
<text transform="translate(564.83,185.80) scale(1.110,1)" font-family="'Liberation Serif', serif" font-style="italic" font-size="26.50" text-anchor="start" fill="#151515"  stroke="#fff" stroke-width="0.19">X</text>
<text transform="translate(584.86,190.60) scale(1.079,1)" font-family="'Liberation Serif', serif" font-style="italic" font-size="19.61" text-anchor="start" fill="#151515"  stroke="#fff" stroke-width="0.10">b</text>
<path d="M601.00,184.70 L604.80,184.70 L600.80,193.90 L598.40,193.90 Z" fill="#000"/>
<text transform="translate(611.08,185.80) scale(0.908,1)" font-family="'Liberation Serif', serif" font-style="italic" font-size="26.50" text-anchor="start" fill="#151515"  stroke="#fff" stroke-width="0.18">Y</text>
<text transform="translate(625.93,190.60) scale(0.973,1)" font-family="'Liberation Serif', serif" font-style="italic" font-size="19.61" text-anchor="start" fill="#151515"  stroke="#fff" stroke-width="0.10">b</text>
<path d="M645.90,184.70 L649.70,184.70 L645.70,193.90 L643.30,193.90 Z" fill="#000"/>
<text transform="translate(650.99,185.80) scale(1.176,1)" font-family="'Liberation Serif', serif" font-style="italic" font-size="26.50" text-anchor="start" fill="#151515"  stroke="#fff" stroke-width="0.21">Z</text>
<text transform="translate(669.72,190.60) scale(0.996,1)" font-family="'Liberation Serif', serif" font-style="italic" font-size="19.61" text-anchor="start" fill="#151515"  stroke="#fff" stroke-width="0.10">b</text>
<line x1="421.0" y1="2.1" x2="421.0" y2="27.3" stroke="#222" stroke-width="1.15"/>
<g transform="translate(424.60,21.00) translate(0.00,0.00)"><text transform="translate(0.00,0.00) scale(1.147,1)" font-family="'Liberation Serif', serif" font-style="italic" font-size="25.40" text-anchor="start" fill="#1e1e1e"  stroke="#fff" stroke-width="0.18">ψ</text></g>
<line x1="443.8" y1="8.4" x2="454.6" y2="8.4" stroke="#222" stroke-width="1.15"/>
<line x1="449.20000000000005" y1="2.9999999999999947" x2="449.20000000000005" y2="13.800000000000006" stroke="#222" stroke-width="1.15"/>
<polyline points="459.8,2.1 467.2,14.7 459.8,27.3" fill="none" stroke="#222" stroke-width="1.15"/>
<path d="M464.90,23.60 L468.70,23.60 L464.70,32.80 L462.30,32.80 Z" fill="#000"/>
<line x1="479.1" y1="2.1" x2="479.1" y2="27.3" stroke="#222" stroke-width="1.15"/>
<g transform="translate(482.40,21.00) translate(0.00,0.00)"><text transform="translate(0.00,0.00) scale(1.147,1)" font-family="'Liberation Serif', serif" font-style="italic" font-size="25.40" text-anchor="start" fill="#1e1e1e"  stroke="#fff" stroke-width="0.18">ψ</text></g>
<line x1="501.6" y1="8.4" x2="512.8" y2="8.4" stroke="#222" stroke-width="1.15"/>
<polyline points="518.0,2.1 525.4,14.7 518.0,27.3" fill="none" stroke="#222" stroke-width="1.15"/>
<path d="M527.20,23.60 L531.00,23.60 L527.00,32.80 L524.60,32.80 Z" fill="#000"/>
<line x1="538.2" y1="2.1" x2="538.2" y2="27.3" stroke="#222" stroke-width="1.15"/>
<g transform="translate(542.30,21.00) translate(0.00,0.00)"><text transform="translate(0.00,0.00) scale(1.209,1)" font-family="'Liberation Serif', serif" font-style="italic" font-size="25.40" text-anchor="start" fill="#1e1e1e"  stroke="#fff" stroke-width="0.19">ϕ</text></g>
<line x1="558.2" y1="7.3" x2="568.8" y2="7.3" stroke="#222" stroke-width="1.15"/>
<line x1="563.5" y1="2.795000000000039" x2="563.5" y2="11.80499999999996" stroke="#222" stroke-width="1.15"/>
<line x1="558.2" y1="12.70" x2="568.8" y2="12.70" stroke="#222" stroke-width="1.15"/>
<polyline points="573.8000000000001,2.1 581.2,14.7 573.8000000000001,27.3" fill="none" stroke="#222" stroke-width="1.15"/>
</g>
</svg></body></html>
